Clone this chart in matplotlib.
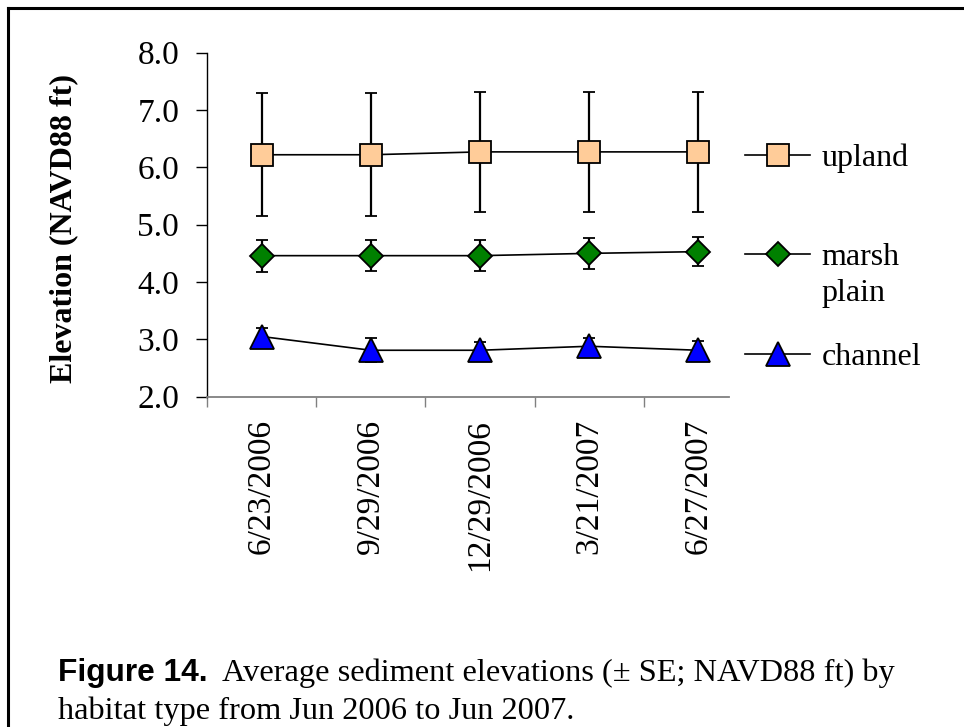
import numpy as np
import matplotlib
matplotlib.use("Agg")
import matplotlib.pyplot as plt
from matplotlib.lines import Line2D

# data
dates = ["6/23/2006", "9/29/2006", "12/29/2006", "3/21/2007", "6/27/2007"]
upland = [6.22, 6.22, 6.27, 6.27, 6.27]
upland_se = [1.07, 1.07, 1.05, 1.04, 1.05]
marsh = [4.46, 4.46, 4.46, 4.50, 4.53]
marsh_se = [0.28, 0.27, 0.27, 0.27, 0.25]
channel = [3.05, 2.81, 2.81, 2.88, 2.81]
channel_se = [0.14, 0.21, 0.14, 0.14, 0.17]

serif = "Liberation Serif"
W, H = 964, 727

fig = plt.figure(figsize=(W / 100, H / 100), dpi=100)
ax = fig.add_axes([207 / W, 1 - 396.7 / H, 522 / W, 344 / H])

x = np.arange(len(dates))
series = [
    (upland, upland_se, "s", "#FFCC99", 15.5, "upland"),
    (marsh, marsh_se, "D", "#008000", 12.5, "marsh"),
    (channel, channel_se, "^", "#0000FF", 17, "channel"),
]
handles = []
for vals, se, mk, fc, ms, lab in series:
    eb = ax.errorbar(x, vals, yerr=se, color="black", lw=1.2, marker=mk,
                     markersize=ms, markerfacecolor=fc, markeredgecolor="black",
                     markeredgewidth=1.3, ecolor="black", elinewidth=1.6,
                     capsize=4.5, capthick=1.6, label=lab)
    handles.append(eb[0])

ax.set_xlim(-0.5, 4.28)
ax.set_ylim(2, 8)
ax.set_yticks(np.arange(2, 8.1, 1))
ax.set_yticklabels([f"{v:.1f}" for v in np.arange(2, 8.1, 1)],
                   fontfamily=serif, fontsize=24)
ax.set_xticks(x)
ax.set_xticklabels(dates, rotation=90, fontfamily=serif, fontsize=24)
ax.set_xticks(np.arange(-0.5, 4, 1), minor=True)
ax.tick_params(axis="x", which="major", length=0, pad=16)
ax.tick_params(axis="x", which="minor", length=7.5, width=1, color="#808080")
ax.tick_params(axis="y", length=8, width=1, pad=12, direction="out")

for s in ["top", "right"]:
    ax.spines[s].set_visible(False)
ax.spines["left"].set_color("black")
ax.spines["bottom"].set_color("#808080")
ax.spines["left"].set_linewidth(1)
ax.spines["bottom"].set_linewidth(1.3)

ax.set_ylabel("Elevation (NAVD88 ft)", fontfamily=serif, fontweight="bold",
              fontsize=23)
ax.yaxis.set_label_coords(-0.247, 0.49)

# legend entries placed at their own rows, like the original
legend_rows = [158, 257, 357]
for h, (vals, se, mk, fc, ms, lab), row in zip(handles, series, legend_rows):
    leg = fig.legend([h], [lab], loc="center left",
                     bbox_to_anchor=(745 / W, 1 - row / H), frameon=False,
                     borderpad=0, borderaxespad=0, handlelength=2.05,
                     handletextpad=0.35, prop={"family": serif, "size": 23})
    if lab == "marsh":
        ax.annotate("plain", xy=(0, 0), xycoords=leg.get_texts()[0],
                    xytext=(0, -26), textcoords="offset points",
                    fontfamily=serif, fontsize=23, va="bottom", ha="left",
                    annotation_clip=False)

# frame around figure (left and top edges visible)
fig.add_artist(Line2D([8 / W, 8 / W], [0, 1 - 8 / H], color="black", lw=2.2,
                      transform=fig.transFigure))
fig.add_artist(Line2D([8 / W, 1], [1 - 8 / H, 1 - 8 / H], color="black", lw=2.2,
                      transform=fig.transFigure))

# caption
t1 = fig.text(58 / W, 1 - 681 / H, "Figure 14.", fontfamily="Liberation Sans",
              fontweight="bold", fontsize=22.8, va="baseline")
fig.canvas.draw()
bb = t1.get_window_extent()
fig.text((bb.x1 + 14) / W, 1 - 681 / H,
         "Average sediment elevations (\u00b1 SE; NAVD88 ft) by",
         fontfamily=serif, fontsize=23.3, va="baseline")
fig.text(58 / W, 1 - 719 / H, "habitat type from Jun 2006 to Jun 2007.",
         fontfamily=serif, fontsize=23.3, va="baseline")

fig.savefig("out.png", dpi=100)
